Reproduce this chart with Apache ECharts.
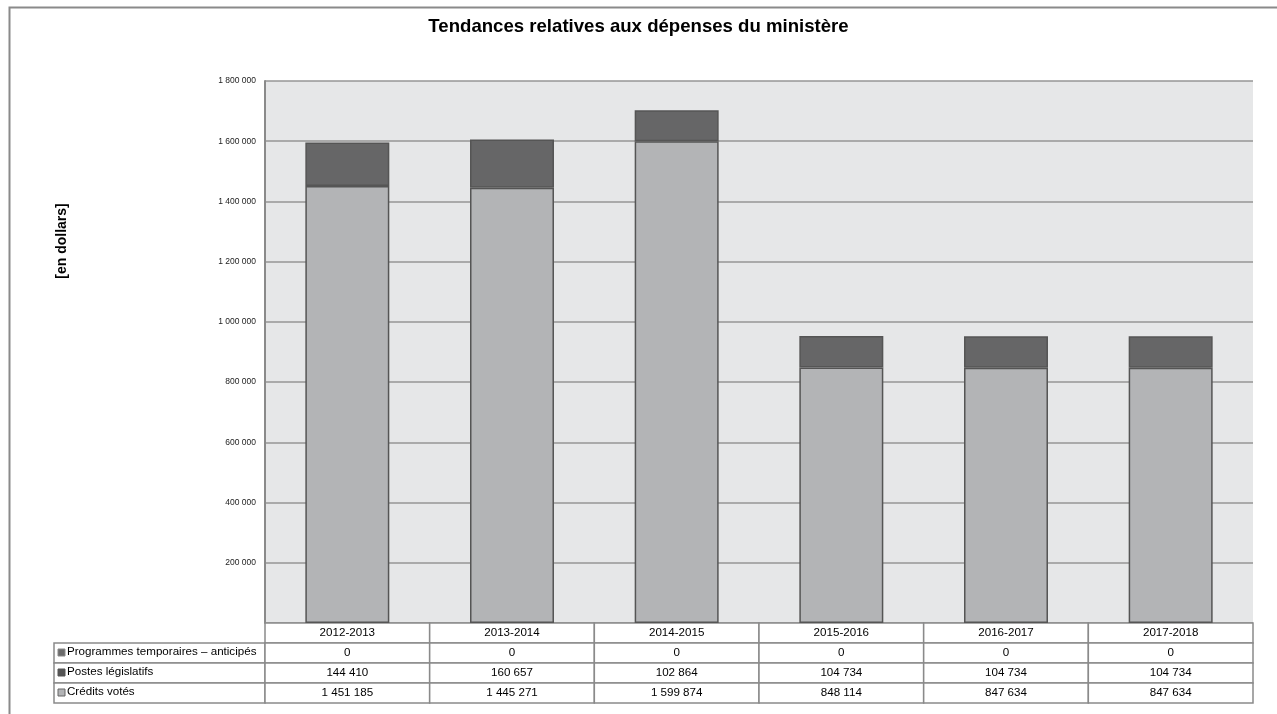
<!DOCTYPE html>
<html>
<head>
<meta charset="utf-8">
<script src="https://cdn.jsdelivr.net/npm/echarts@6/dist/echarts.min.js"></script>
<style>
  html, body { margin: 0; padding: 0; background: #fff; }
  #chart { width: 1277px; height: 714px; }
</style>
</head>
<body>
<div id="chart"></div>
<script>
// Fiscal years shown on the category axis and in the table header
const years = ['2012-2013', '2013-2014', '2014-2015', '2015-2016', '2016-2017', '2017-2018'];

// Spending by type (dollars)
const creditsVotes = [1451185, 1445271, 1599874, 848114, 847634, 847634];
const postesLegislatifs = [144410, 160657, 102864, 104734, 104734, 104734];
const programmesTemporaires = [0, 0, 0, 0, 0, 0];

// Row labels of the data table, top to bottom
const rowNames = ['Programmes temporaires – anticipés', 'Postes législatifs', 'Crédits votés'];
const rowSeries = [programmesTemporaires, postesLegislatifs, creditsVotes];

// Y axis range
const yMin = 0, yMax = 1800000, yStep = 200000;

const FONT = '"Liberation Sans", Arial, sans-serif';
const BORDER = '#8a8a8a';
const TABLE_FONT = '11.6px ' + FONT;
const markerStyles = [
  { fill: '#6b6b6b', stroke: '#888' },
  { fill: '#555555', stroke: '#555' },
  { fill: '#b3b4b6', stroke: '#666' }
];

function fmt(n) {
  return String(n).replace(/\B(?=(\d{3})+(?!\d))/g, ' ');
}

// Table cells: header row (r = 0) holds the years, then one row per series
const cells = [];
years.forEach((y, c) => cells.push({ c, r: 0, text: y, kind: 'cell' }));
rowSeries.forEach((arr, i) => {
  cells.push({ c: 0, r: i + 1, text: rowNames[i], kind: 'label', m: i });
  arr.forEach((v, c) => cells.push({ c, r: i + 1, text: fmt(v), kind: 'cell' }));
});

const LABEL_COL_W = 211;

function renderCell(params, api) {
  const cell = cells[params.dataIndex];
  const p = api.coord([api.value(0), api.value(1)]);
  const s = api.size([1, 1]);
  const x = p[0] - s[0] / 2, y = p[1] - s[1] / 2;
  if (cell.kind === 'cell') {
    return {
      type: 'group',
      children: [
        { type: 'rect', shape: { x, y, width: s[0], height: s[1] },
          style: { fill: '#fff', stroke: BORDER, lineWidth: 1.5 } },
        { type: 'text', style: { x: p[0], y: p[1], text: cell.text, fill: '#000',
          font: TABLE_FONT, textAlign: 'center', textVerticalAlign: 'middle' } }
      ]
    };
  }
  const x0 = x - LABEL_COL_W;
  const ms = markerStyles[cell.m];
  return {
    type: 'group',
    children: [
      { type: 'rect', shape: { x: x0, y, width: LABEL_COL_W, height: s[1] },
        style: { fill: '#fff', stroke: BORDER, lineWidth: 1.5 } },
      { type: 'rect', shape: { x: x0 + 4, y: p[1] - 4, width: 7, height: 7 },
        style: { fill: ms.fill, stroke: ms.stroke, lineWidth: 1 } },
      { type: 'text', style: { x: x0 + 13, y: p[1] - 1, text: cell.text, fill: '#000',
        font: TABLE_FONT, textAlign: 'left', textVerticalAlign: 'middle' } }
    ]
  };
}

const chart = echarts.init(document.getElementById('chart'), null, { renderer: 'canvas' });

chart.setOption({
  backgroundColor: '#fff',
  animation: false,
  title: {
    text: 'Tendances relatives aux dépenses du ministère',
    left: 'center',
    top: 12,
    textStyle: { fontFamily: FONT, fontSize: 18.6, fontWeight: 'bold', color: '#000' }
  },
  graphic: [
    // outer chart frame
    { type: 'rect', left: 7, top: 5, shape: { width: 1300, height: 740 }, silent: true,
      style: { fill: 'none', stroke: BORDER, lineWidth: 2 }, z: 0 },
    // axis title, reading bottom to top
    { type: 'text', x: 62, y: 241, rotation: Math.PI / 2,
      style: { text: '[en dollars]', font: 'bold 14px ' + FONT, fill: '#000',
        textAlign: 'center', textVerticalAlign: 'middle' } }
  ],
  grid: [
    { left: 265, right: 24, top: 81, bottom: 91, show: true, backgroundColor: '#e6e7e8', borderWidth: 0 },
    { left: 265, right: 24, top: 623, height: 80 }
  ],
  xAxis: [
    { type: 'category', gridIndex: 0, data: years,
      axisLine: { show: false }, axisTick: { show: false }, axisLabel: { show: false } },
    { type: 'category', gridIndex: 1, data: years, show: false }
  ],
  yAxis: [
    { type: 'value', gridIndex: 0, min: yMin, max: yMax, interval: yStep,
      axisLine: { show: true, lineStyle: { color: BORDER, width: 2 } },
      axisTick: { show: false },
      splitLine: { lineStyle: { color: '#969696', width: 1.5 } },
      axisLabel: { margin: 9, fontFamily: FONT, fontSize: 8.5, color: '#222',
        formatter: v => (v === 0 ? '' : fmt(v)) } },
    { type: 'category', gridIndex: 1, inverse: true, data: ['0', '1', '2', '3'], show: false }
  ],
  series: [
    { name: 'Crédits votés', type: 'bar', stack: 'total', data: creditsVotes,
      barWidth: '51%',
      itemStyle: { color: '#b3b4b6', borderColor: '#555', borderWidth: 1.5 } },
    { name: 'Postes législatifs', type: 'bar', stack: 'total', data: postesLegislatifs,
      itemStyle: { color: '#666667', borderColor: '#555', borderWidth: 1.5 } },
    { name: 'Programmes temporaires – anticipés', type: 'bar', stack: 'total', data: programmesTemporaires,
      itemStyle: { color: '#6b6b6b', borderColor: '#555', borderWidth: 0 } },
    { type: 'custom', xAxisIndex: 1, yAxisIndex: 1, clip: false,
      renderItem: renderCell,
      data: cells.map(c => [c.c, c.r]) }
  ]
});
</script>
</body>
</html>
